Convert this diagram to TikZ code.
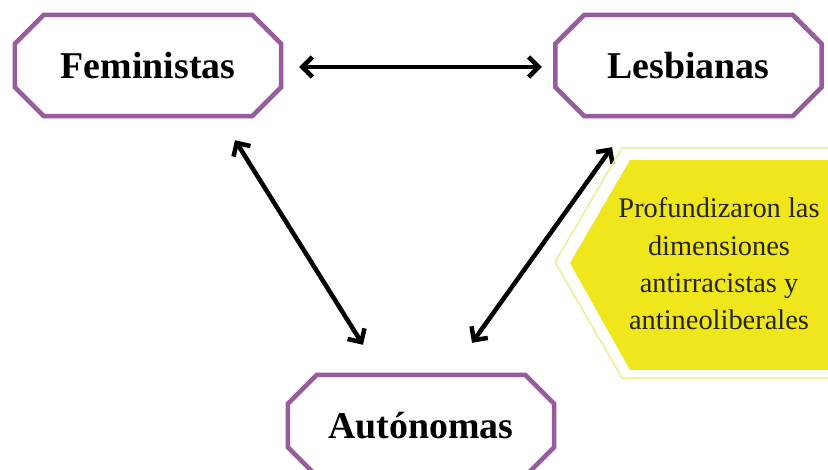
\documentclass[tikz,border=0pt]{standalone}
\usepackage{fontspec}
\setmainfont{Liberation Serif}
\usetikzlibrary{arrows.meta,calc}
\definecolor{framepurple}{RGB}{152,92,158}
\definecolor{noteyellow}{RGB}{240,230,28}
\definecolor{noteline}{RGB}{238,236,150}
\definecolor{notetext}{RGB}{35,35,25}
\begin{document}
\begin{tikzpicture}[x=1bp,y=-1bp,
  group/.style={rectangle, minimum width=266bp, minimum height=101bp, inner sep=0pt,
    font=\fontsize{38}{40}\selectfont\bfseries},
  frame/.style={draw=framepurple, line width=4.5bp, line join=miter},
  link/.style={line width=4.5bp,
    {Straight Barb[length=10bp,width=20bp]}-{Straight Barb[length=10bp,width=20bp]}},
  notetxt/.style={align=center, text=notetext, font=\fontsize{28.5}{37.5}\selectfont},
  noteedge/.style={draw=noteline, line width=1.5bp},
  notefill/.style={fill=noteyellow}
]
\clip (0,0) rectangle (828,470);
\fill[white] (0,0) rectangle (828,470);

% the three groups
\node[group] (fem) at (148,65.5) {Feministas};
\node[group] (les) at (688.5,65.5) {Lesbianas};
\node[group] (aut) at (421,425.5) {Autónomas};

% octagonal frames around the groups
\foreach \n in {fem,les,aut}
  \draw[frame] ($(\n.north west)+(29,0)$) -- ($(\n.north east)+(-29,0)$)
    -- ($(\n.north east)+(0,29)$) -- ($(\n.south east)+(0,-29)$)
    -- ($(\n.south east)+(-29,0)$) -- ($(\n.south west)+(29,0)$)
    -- ($(\n.south west)+(0,-29)$) -- ($(\n.north west)+(0,29)$) -- cycle;

% arrow ends, kept clear of the frames
\coordinate (f-e) at ($(fem.east)+(18,1.5)$);
\coordinate (l-w) at ($(les.west)+(-13.5,1.5)$);
\coordinate (f-s) at ($(fem.south)+(87,24)$);
\coordinate (a-nl) at ($(aut.north)+(-58,-30)$);
\coordinate (a-nr) at ($(aut.north)+(51,-32)$);
\coordinate (l-s) at ($(les.south)+(-76.5,31)$);

\draw[link] (f-e) -- (l-w);
\draw[link] (f-s) -- (a-nl);
\draw[link] (a-nr) -- (l-s);

% yellow pointer with its note
\draw[noteedge] (830,148) -- (622,148) -- (555,262) -- (622,378) -- (830,378);
\fill[notefill] (830,160) -- (630,160) -- (570,263) -- (630,370) -- (830,370) -- cycle;
\node[notetxt] (note) at (719,264) {Profundizaron las\\dimensiones\\antirracistas y\\antineoliberales};
\end{tikzpicture}
\end{document}
